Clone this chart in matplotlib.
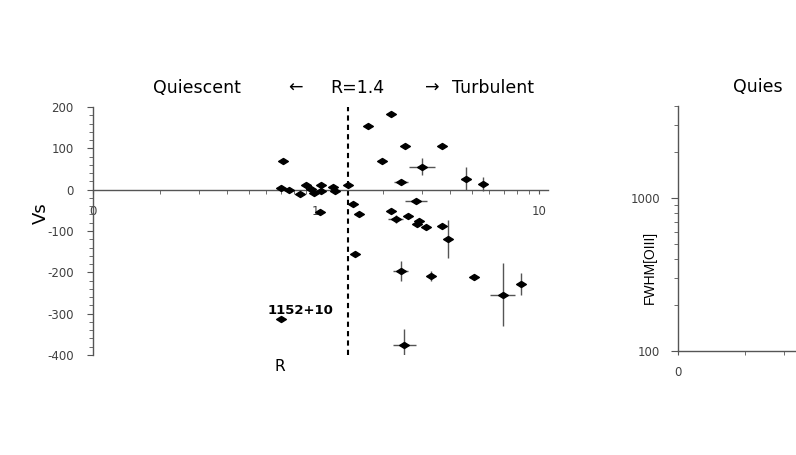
import matplotlib.pyplot as plt
import numpy as np
from matplotlib.path import Path
from matplotlib.ticker import FixedLocator, NullFormatter

# R ratio and Vs velocity (km/s)
r_vals = [0.71, 0.70, 0.76, 0.85, 0.90, 0.95, 0.98, 1.06, 1.06, 1.19, 1.22, 1.40, 1.04, 0.70,
          1.47, 1.56, 1.50, 1.71, 1.99, 2.18, 2.40, 2.51, 3.00, 3.70, 4.70, 5.63,
          2.81, 2.18, 2.30, 2.59, 2.91, 2.83, 3.11, 3.70, 3.90,
          2.40, 3.30, 5.11, 6.92, 8.30, 2.49]
vs_vals = [70, 3, 0, -10, 12, 2, -8, 11, -4, 6, -2, 12, -53, -314,
           -35, -59, -155, 153, 70, 184, 18, 105, 56, 106, 27, 14,
           -27, -52, -71, -63, -75, -83, -91, -89, -119,
           -196, -209, -212, -254, -228, -375]
# errors: R lower, R upper, Vs
r_err_lo = [0, 0, 0, 0, 0, 0, 0, 0, 0, 0, 0, 0, 0, 0,
            0, 0, 0.04, 0, 0, 0, 0.16, 0, 0.39, 0, 0.23, 0.2,
            0.31, 0, 0.2, 0, 0, 0, 0, 0, 0.1,
            0.18, 0.1, 0, 0.9, 0.3, 0.28]
r_err_hi = [0, 0, 0, 0, 0, 0, 0, 0, 0, 0, 0, 0, 0, 0,
            0, 0, 0.04, 0, 0, 0, 0.18, 0, 0.41, 0, 0.28, 0.2,
            0.34, 0, 0.15, 0, 0, 0, 0, 0, 0.1,
            0.19, 0.1, 0, 0.9, 0.3, 0.32]
vs_err = [0, 0, 0, 0, 0, 0, 0, 0, 0, 0, 0, 0, 0, 0,
          0, 0, 0, 0, 0, 0, 4, 0, 21, 0, 27, 17,
          5, 0, 10, 0, 0, 0, 0, 0, 46,
          24, 13, 6, 77, 27, 37]

y_ticks = [-400, -300, -200, -100, 0, 100, 200]
y_labels = ['-400', '-300', '-200', '-100', '0', '100', '200']
x_ticks = [0.1, 1, 10]
x_labels = ['0', '1', '10']
fwhm_ticks = [100, 1000]
fwhm_labels = ['100', '1000']

r_cut = 1.4
note_name = '1152+10'
note_pos = (0.857, -292)

tick_col = '#404040'
axis_col = '#555555'

# diamond a bit wider than tall
diamond = Path([(-1, 0), (0, 0.62), (1, 0), (0, -0.62), (-1, 0)],
               [Path.MOVETO, Path.LINETO, Path.LINETO, Path.LINETO, Path.CLOSEPOLY])

# header pieces and their offsets (axes fraction)
partes = [('Quiescent', 0.0), ('\u2190', 0.297), ('R=1.4', 0.389),
          ('\u2192', 0.598), ('Turbulent', 0.657)]


def titulo(ax, x0, pecas):
    for txt, dx in pecas:
        ax.text(x0 + dx, 1.077, txt, transform=ax.transAxes, ha='left', va='center',
                fontsize=12.5, color='black', clip_on=False)


def log_x(ax, ticks):
    ax.set_xscale('log')
    ax.set_xlim(0.1, 11)
    ax.xaxis.set_major_locator(FixedLocator(ticks))
    ax.xaxis.set_minor_locator(FixedLocator([m * 10.0 ** e for e in (-1, 0) for m in range(2, 10)]))
    ax.xaxis.set_minor_formatter(NullFormatter())


def main():
    plt.rcParams['font.family'] = ['DejaVu Sans']
    fig = plt.figure(figsize=(7.96, 4.55), dpi=100)

    # --- left panel: Vs vs R ---
    ax = fig.add_axes([0.1168, 0.2198, 0.5716, 0.545])
    ax.errorbar(r_vals, vs_vals, xerr=[r_err_lo, r_err_hi], yerr=vs_err, fmt='none',
                ecolor='#555555', elinewidth=1, capsize=0, zorder=2)
    ax.plot(r_vals, vs_vals, linestyle='none', marker=diamond, markersize=7,
            color='black', zorder=3)
    ax.axvline(r_cut, color='black', linestyle=(0, (2.5, 2)), linewidth=1.5, zorder=1)
    ax.text(note_pos[0], note_pos[1], note_name, fontsize=9.5, fontweight='bold',
            ha='center', va='center')

    log_x(ax, x_ticks)
    ax.set_xticklabels(x_labels)
    ax.set_ylim(-400, 200)
    ax.set_yticks(y_ticks)
    ax.set_yticklabels(y_labels)
    ax.yaxis.set_minor_locator(FixedLocator(np.arange(-400, 201, 20)))

    ax.spines['top'].set_visible(False)
    ax.spines['right'].set_visible(False)
    ax.spines['bottom'].set_position(('data', 0))
    for s in ('left', 'bottom'):
        ax.spines[s].set_color(axis_col)
        ax.spines[s].set_linewidth(1)
    ax.tick_params(axis='y', which='major', direction='out', length=4, pad=10,
                   labelsize=8.5, labelcolor=tick_col, color=axis_col)
    ax.tick_params(axis='y', which='minor', direction='out', length=3, color=axis_col)
    ax.tick_params(axis='x', which='major', direction='out', length=3, pad=8,
                   labelsize=8.5, labelcolor=tick_col, color=axis_col)
    ax.tick_params(axis='x', which='minor', direction='out', length=3, color=axis_col)

    ax.text(-0.115, 0.573, 'Vs', transform=ax.transAxes, rotation=90, fontsize=13,
            ha='center', va='center')
    ax.text(0.411, -0.048, 'R', transform=ax.transAxes, fontsize=11,
            ha='center', va='center')
    titulo(ax, 0.132, partes)

    # --- right panel: FWHM[OIII] vs R (runs off the page, only its start shows) ---
    ax2 = fig.add_axes([0.8518, 0.2286, 0.5716, 0.5385])
    # only the first x tick lands on the page
    log_x(ax2, x_ticks[:1])
    ax2.set_xticklabels(x_labels[:1])
    ax2.set_yscale('log')
    ax2.set_ylim(100, 4000)
    ax2.set_yticks(fwhm_ticks)
    ax2.set_yticklabels(fwhm_labels)
    ax2.yaxis.set_minor_locator(FixedLocator([m * 100 for m in range(2, 10)] + [2000, 3000, 4000]))
    ax2.yaxis.set_minor_formatter(NullFormatter())

    ax2.spines['top'].set_visible(False)
    ax2.spines['right'].set_visible(False)
    for s in ('left', 'bottom'):
        ax2.spines[s].set_color(axis_col)
        ax2.spines[s].set_linewidth(1)
    ax2.tick_params(axis='y', which='major', direction='out', length=5, pad=8,
                    labelsize=8.5, labelcolor=tick_col, color=axis_col)
    ax2.tick_params(axis='y', which='minor', direction='out', length=3, color=axis_col)
    ax2.tick_params(axis='x', which='major', direction='out', length=3, pad=8,
                    labelsize=8.5, labelcolor=tick_col, color=axis_col)
    ax2.tick_params(axis='x', which='minor', direction='out', length=3, color=axis_col)

    ax2.text(-0.0615, 0.339, 'FWHM[OIII]', transform=ax2.transAxes, rotation=90,
             fontsize=10, family='Liberation Sans', ha='center', va='center')
    # only the visible start of the header fits on the page
    titulo(ax2, 0.121, [('Quies', 0.0)])

    plt.savefig('out.png', dpi=100)


if __name__ == "__main__":
    main()
